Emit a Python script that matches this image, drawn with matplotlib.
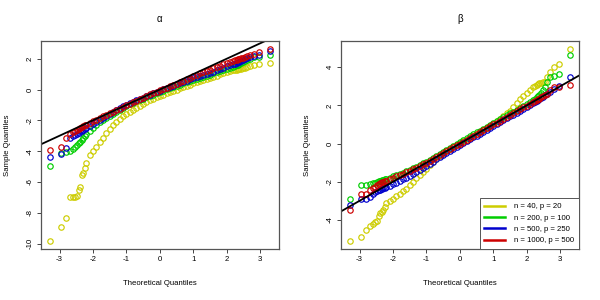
import matplotlib
matplotlib.use("Agg")
import matplotlib.pyplot as plt

plt.rcParams['font.family'] = ['Liberation Sans', 'DejaVu Sans']
plt.rcParams['axes.unicode_minus'] = False

# theoretical quantiles (shared by every series)
X_LO = [-3.29, -2.97, -2.81, -2.70, -2.61, -2.54, -2.48, -2.43, -2.38, -2.34, -2.30, -2.25]
X_MID = [-2.2, -2.1, -2.0, -1.9, -1.8, -1.7, -1.6, -1.5, -1.4, -1.3, -1.2, -1.1, -1.0,
         -0.9, -0.8, -0.7, -0.6, -0.5, -0.4, -0.3, -0.2, -0.1, 0.0, 0.1, 0.2, 0.3, 0.4,
         0.5, 0.6, 0.7, 0.8, 0.9, 1.0, 1.1, 1.2, 1.3, 1.4, 1.5, 1.6, 1.7, 1.8, 1.9, 2.0,
         2.1, 2.2]
X_HI = [2.25, 2.30, 2.34, 2.38, 2.43, 2.48, 2.54, 2.61, 2.70, 2.81, 2.97, 3.29]
X_ALL = X_LO + X_MID + X_HI

labels = ["n = 40, p = 20", "n = 200, p = 100", "n = 500, p = 250", "n = 1000, p = 500"]
colors = ["#CDCD00", "#00CD00", "#0000CD", "#CD0000"]

# sample quantiles, alpha panel
alpha_n40 = [-9.85, -8.93, -8.32, -7.00, -7.00, -6.98, -6.90, -6.52, -6.30, -5.55, -5.40, -5.10,
             -4.75, -4.28, -4.00, -3.70, -3.42, -3.15, -2.85, -2.56, -2.30, -2.08, -1.90, -1.75,
             -1.62, -1.48, -1.32, -1.18, -1.04, -0.93, -0.82, -0.71, -0.61, -0.51, -0.42, -0.33,
             -0.25, -0.17, -0.09, -0.01, 0.07, 0.15, 0.24, 0.32, 0.40, 0.47, 0.54, 0.61, 0.68,
             0.75, 0.83, 0.91, 0.99, 1.06, 1.14, 1.20, 1.25,
             1.27, 1.29, 1.31, 1.34, 1.36, 1.38, 1.42, 1.48, 1.52, 1.57, 1.65, 1.72]
alpha_n200 = [-4.97, -4.12, -4.07, -3.97, -3.85, -3.72, -3.60, -3.50, -3.42, -3.30, -3.15, -3.00,
              -2.90, -2.68, -2.47, -2.28, -2.12, -1.97, -1.83, -1.70, -1.56, -1.43, -1.30, -1.18,
              -1.06, -0.96, -0.86, -0.77, -0.69, -0.60, -0.51, -0.42, -0.33, -0.24, -0.15, -0.07,
              0.01, 0.08, 0.16, 0.24, 0.32, 0.40, 0.47, 0.54, 0.61, 0.68, 0.75, 0.83, 0.90,
              0.97, 1.05, 1.13, 1.20, 1.28, 1.35, 1.42, 1.48,
              1.52, 1.58, 1.62, 1.66, 1.72, 1.80, 1.86, 1.93, 2.00, 2.08, 2.13, 2.26]
alpha_n500 = [-4.37, -4.18, -3.81, -3.14, -3.03, -2.95, -2.86, -2.80, -2.72, -2.66, -2.62, -2.55,
              -2.48, -2.36, -2.24, -2.11, -1.98, -1.86, -1.74, -1.62, -1.49, -1.36, -1.23, -1.10,
              -0.98, -0.88, -0.78, -0.70, -0.61, -0.52, -0.43, -0.34, -0.25, -0.16, -0.07, 0.02,
              0.10, 0.18, 0.26, 0.34, 0.42, 0.50, 0.58, 0.66, 0.74, 0.81, 0.88, 0.95, 1.02,
              1.09, 1.17, 1.25, 1.33, 1.41, 1.50, 1.57, 1.64,
              1.68, 1.73, 1.77, 1.81, 1.86, 1.92, 1.97, 2.04, 2.10, 2.17, 2.26, 2.47]
alpha_n1000 = [-3.90, -3.71, -3.16, -2.90, -2.78, -2.68, -2.60, -2.55, -2.48, -2.42, -2.38, -2.33,
               -2.27, -2.16, -2.05, -1.95, -1.85, -1.75, -1.65, -1.55, -1.45, -1.34, -1.24, -1.13,
               -1.03, -0.92, -0.82, -0.72, -0.62, -0.52, -0.42, -0.32, -0.23, -0.14, -0.05, 0.04,
               0.12, 0.21, 0.30, 0.39, 0.48, 0.58, 0.68, 0.78, 0.88, 0.97, 1.06, 1.14, 1.22,
               1.29, 1.38, 1.46, 1.55, 1.63, 1.72, 1.79, 1.86,
               1.89, 1.93, 1.96, 1.99, 2.03, 2.07, 2.12, 2.17, 2.26, 2.32, 2.41, 2.65]

# sample quantiles, beta panel
beta_n40 = [-5.12, -4.89, -4.54, -4.33, -4.19, -4.12, -4.08, -3.79, -3.66, -3.57, -3.49, -3.32,
            -3.10, -3.00, -2.88, -2.76, -2.64, -2.51, -2.36, -2.18, -2.00, -1.83, -1.66, -1.49,
            -1.32, -1.14, -0.97, -0.81, -0.66, -0.53, -0.41, -0.30, -0.19, -0.09, 0.01, 0.11,
            0.21, 0.31, 0.41, 0.51, 0.61, 0.71, 0.81, 0.91, 1.05, 1.17, 1.30, 1.43, 1.58,
            1.72, 1.90, 2.10, 2.33, 2.50, 2.65, 2.82, 2.98,
            3.03, 3.08, 3.12, 3.16, 3.19, 3.21, 3.25, 3.50, 3.75, 4.02, 4.16, 4.97]
beta_n200 = [-2.93, -2.17, -2.15, -2.13, -2.08, -2.04, -2.01, -1.98, -1.95, -1.92, -1.90, -1.87,
             -1.84, -1.78, -1.72, -1.65, -1.59, -1.52, -1.45, -1.38, -1.30, -1.21, -1.12, -1.03,
             -0.94, -0.84, -0.74, -0.64, -0.53, -0.43, -0.33, -0.22, -0.12, -0.02, 0.08, 0.18,
             0.28, 0.38, 0.48, 0.58, 0.68, 0.78, 0.88, 0.98, 1.08, 1.18, 1.28, 1.38, 1.48,
             1.58, 1.68, 1.78, 1.88, 1.98, 2.09, 2.20, 2.30,
             2.36, 2.42, 2.48, 2.55, 2.65, 2.80, 2.98, 3.23, 3.50, 3.55, 3.66, 4.62]
beta_n500 = [-3.23, -2.92, -2.88, -2.80, -2.62, -2.55, -2.48, -2.44, -2.41, -2.38, -2.35, -2.32,
             -2.28, -2.21, -2.13, -2.05, -1.96, -1.87, -1.78, -1.69, -1.58, -1.48, -1.38, -1.27,
             -1.16, -1.05, -0.94, -0.83, -0.72, -0.61, -0.50, -0.39, -0.28, -0.18, -0.08, 0.02,
             0.12, 0.22, 0.32, 0.42, 0.52, 0.62, 0.72, 0.82, 0.92, 1.02, 1.12, 1.22, 1.32,
             1.42, 1.52, 1.62, 1.73, 1.83, 1.94, 2.04, 2.14,
             2.20, 2.25, 2.30, 2.35, 2.40, 2.46, 2.52, 2.60, 2.72, 2.88, 2.99, 3.47]
beta_n1000 = [-3.46, -2.62, -2.62, -2.45, -2.33, -2.25, -2.16, -2.10, -2.06, -2.03, -2.00, -1.97,
              -1.94, -1.88, -1.80, -1.72, -1.65, -1.58, -1.50, -1.43, -1.35, -1.27, -1.18, -1.09,
              -1.00, -0.90, -0.80, -0.70, -0.60, -0.50, -0.40, -0.30, -0.20, -0.10, 0.00, 0.10,
              0.20, 0.30, 0.40, 0.50, 0.60, 0.70, 0.80, 0.90, 1.00, 1.10, 1.20, 1.30, 1.40,
              1.50, 1.60, 1.70, 1.79, 1.89, 1.98, 2.08, 2.18,
              2.22, 2.27, 2.32, 2.36, 2.42, 2.47, 2.52, 2.58, 2.80, 2.96, 2.98, 3.06]

alpha_series = [alpha_n40, alpha_n200, alpha_n500, alpha_n1000]
beta_series = [beta_n40, beta_n200, beta_n500, beta_n1000]

FS = 5.6
fig = plt.figure(figsize=(6, 3), dpi=100)
ax1 = fig.add_axes([41 / 600, 51 / 300, 237.7 / 600, 208 / 300])
ax2 = fig.add_axes([341 / 600, 51 / 300, 237.7 / 600, 208 / 300])


def qq_panel(ax, series, title, yticks):
    for ys, col in zip(series, colors):
        ax.plot(X_ALL, ys, linestyle='none', marker='o', markersize=3.9,
                markerfacecolor='none', markeredgecolor=col, markeredgewidth=0.85)
    ax.margins(0.04)
    ax.axline((0, 0), slope=1, color='black', linewidth=1.3)
    ax.set_xticks([-3, -2, -1, 0, 1, 2, 3])
    ax.set_yticks(yticks)
    ax.tick_params(direction='out', length=3, width=0.7, color='#444444',
                   labelsize=FS, pad=2)
    for lab in ax.get_yticklabels():
        lab.set_rotation(90)
        lab.set_va('center')
    for sp in ax.spines.values():
        sp.set_color('#555555')
        sp.set_linewidth(0.9)
    ax.set_xlabel("Theoretical Quantiles", fontsize=FS)
    ax.set_ylabel("Sample Quantiles", fontsize=FS)
    ax.xaxis.set_label_coords(0.5, -0.168)
    ax.xaxis.label.set_va('center')
    ax.yaxis.set_label_coords(-0.139, 0.5)
    ax.yaxis.label.set_va('center')
    ax.text(0.5, 1.105, title, transform=ax.transAxes, ha='center', va='center', fontsize=7)


qq_panel(ax1, alpha_series, "α", [-10, -8, -6, -4, -2, 0, 2])
qq_panel(ax2, beta_series, "β", [-4, -2, 0, 2, 4])

handles = [plt.Line2D([], [], color=c, linewidth=1.8) for c in colors]
leg = ax2.legend(handles, labels, loc='lower right', borderaxespad=0, fontsize=FS,
                 fancybox=False, framealpha=1, edgecolor='#555555', handlelength=2.6,
                 labelspacing=0.5, borderpad=0.6, handletextpad=1.2)
leg.get_frame().set_linewidth(0.7)

fig.savefig("out.png", dpi=100)
